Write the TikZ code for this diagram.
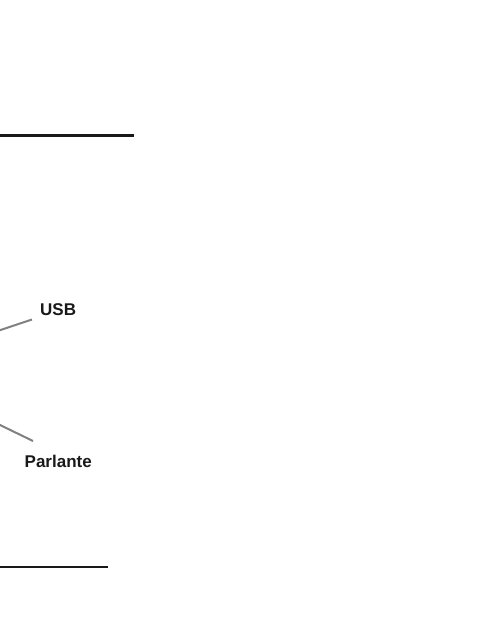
\documentclass[tikz,border=0pt]{standalone}
\usepackage{fontspec}
\setmainfont{Liberation Sans}
\begin{document}
\begin{tikzpicture}[x=1pt,y=-1pt,
  lbl/.style={font=\fontsize{17}{19}\selectfont\bfseries, text=black!90, inner sep=0pt, anchor=base west},
  leader/.style={draw=black!50, line width=2pt},
  rule/.style={draw=black!90, line width=2.6pt}]
\useasboundingbox (0,0) rectangle (500,624);
\coordinate (t1) at (0,135.5);
\coordinate (t2) at (134,135.5);
\coordinate (b1) at (0,567);
\coordinate (b2) at (108,567);
\draw[rule] (t1) -- (t2);
\draw[rule, line width=2.2pt] (b1) -- (b2);
\node[lbl] (usb) at (40,315) {USB};
\node[lbl] (parl) at (24.5,467) {Parlante};
\coordinate (u0) at (-1,330.5);
\coordinate (u1) at (32,319.5);
\coordinate (p0) at (-1,424.5);
\coordinate (p1) at (33,441);
\draw[leader] (u0) -- (u1);
\draw[leader] (p0) -- (p1);
\end{tikzpicture}
\end{document}
